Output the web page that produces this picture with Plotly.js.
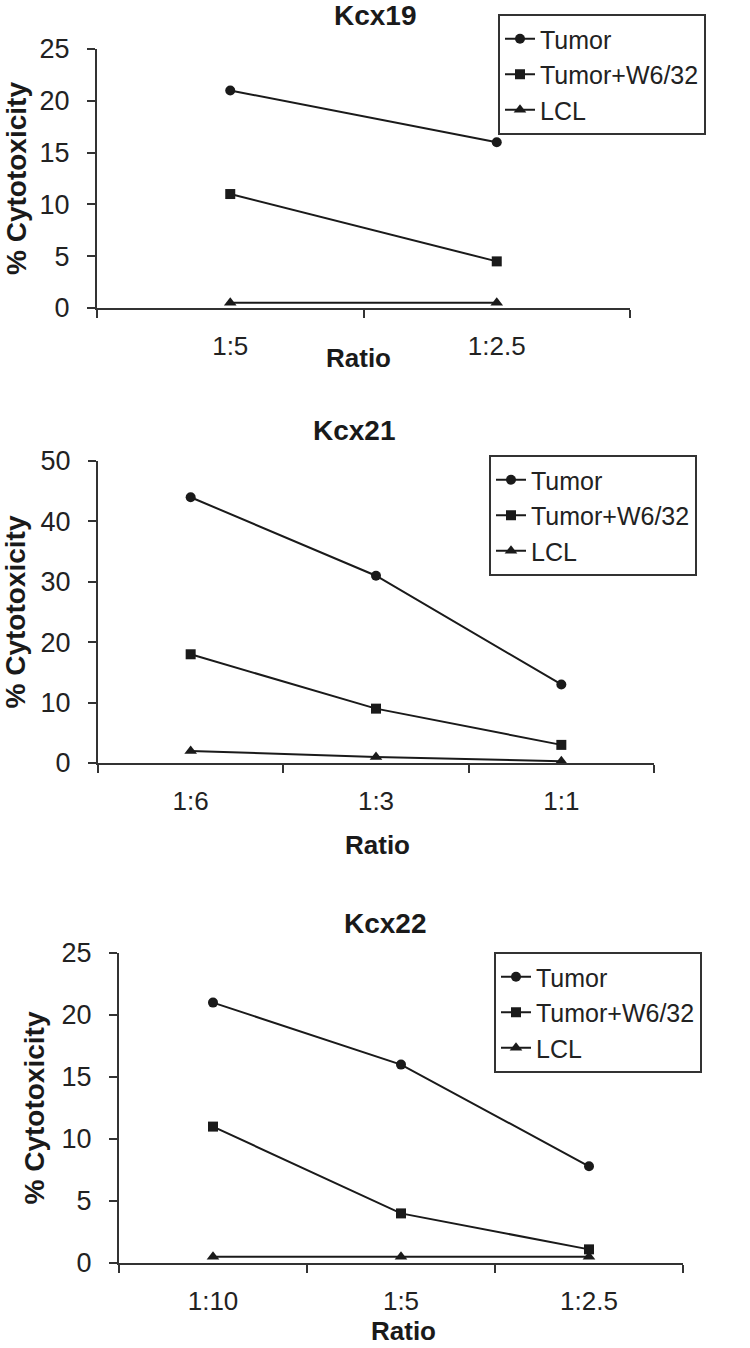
<!DOCTYPE html>
<html>
<head>
<meta charset="utf-8">
<script src="https://cdn.plot.ly/plotly-3.0.1.min.js"></script>
<style>html,body{margin:0;padding:0;background:#fff;}#chart{width:750px;height:1348px;}</style>
</head>
<body>
<div id="chart"></div>
<script>
// ---- data ----
const seriesNames = ["Tumor", "Tumor+W6/32", "LCL"];
const panelTitles = ["Kcx19", "Kcx21", "Kcx22"];

const kcx19Ratios = ["1:5", "1:2.5"];
const kcx19Tumor = [21, 16];
const kcx19TumorW632 = [11, 4.5];
const kcx19LCL = [0.5, 0.5];

const kcx21Ratios = ["1:6", "1:3", "1:1"];
const kcx21Tumor = [44, 31, 13];
const kcx21TumorW632 = [18, 9, 3];
const kcx21LCL = [2, 1, 0.3];

const kcx22Ratios = ["1:10", "1:5", "1:2.5"];
const kcx22Tumor = [21, 16, 7.8];
const kcx22TumorW632 = [11, 4, 1.1];
const kcx22LCL = [0.5, 0.5, 0.5];

const yMax = [25, 50, 25];
const yStep = [5, 10, 5];

// ---- layout geometry (pixels) ----
const W = 750, H = 1348;
const panels = [
  {x0: 97, x1: 630, yTop: 49, yBot: 308, titleX: 375, titleY: 16, ratioX: 358, ratioY: 358,
   legX: 498, legY: 14, yStandoff: 5},
  {x0: 98, x1: 654, yTop: 461, yBot: 763, titleX: 354, titleY: 430, ratioX: 377, ratioY: 845,
   legX: 489, legY: 455, yStandoff: 19},
  {x0: 119, x1: 683, yTop: 953, yBot: 1263, titleX: 385, titleY: 923, ratioX: 403, ratioY: 1331,
   legX: 494, legY: 952, yStandoff: 9}
];

const datasets = [
  {x: kcx19Ratios, ys: [kcx19Tumor, kcx19TumorW632, kcx19LCL]},
  {x: kcx21Ratios, ys: [kcx21Tumor, kcx21TumorW632, kcx21LCL]},
  {x: kcx22Ratios, ys: [kcx22Tumor, kcx22TumorW632, kcx22LCL]}
];

const symbols = ["circle", "square", "triangle-up"];
const FONT = "Liberation Sans, Arial, sans-serif";
const INK = "#1a1a1a";

const traces = [];
datasets.forEach((ds, p) => {
  const ax = p === 0 ? "" : String(p + 1);
  ds.ys.forEach((yv, s) => {
    traces.push({
      type: "scatter",
      mode: "lines+markers",
      name: seriesNames[s],
      x: ds.x,
      y: yv,
      xaxis: "x" + ax,
      yaxis: "y" + ax,
      legend: p === 0 ? "legend" : "legend" + (p + 1),
      cliponaxis: false,
      line: {color: INK, width: 2},
      marker: {symbol: symbols[s], size: s === 2 ? 11 : 10, color: INK}
    });
  });
});

const layout = {
  width: W, height: H,
  margin: {l: 0, r: 0, t: 0, b: 0},
  paper_bgcolor: "#fff",
  plot_bgcolor: "#fff",
  font: {family: FONT, color: INK, size: 26},
  showlegend: true,
  annotations: []
};

panels.forEach((g, p) => {
  const ax = p === 0 ? "" : String(p + 1);
  const n = datasets[p].x.length;
  layout["xaxis" + ax] = {
    domain: [g.x0 / W, g.x1 / W],
    anchor: "y" + ax,
    type: "category",
    range: [-0.5, n - 0.5],
    tickson: "boundaries",
    ticks: "outside", ticklen: 8, tickwidth: 2, tickcolor: "#333",
    showline: true, linecolor: "#333", linewidth: 2,
    showgrid: false, zeroline: false,
    ticklabelstandoff: 14,
    tickfont: {family: FONT, size: 26, color: "#222"},
    fixedrange: true
  };
  layout["yaxis" + ax] = {
    domain: [1 - g.yBot / H, 1 - g.yTop / H],
    anchor: "x" + ax,
    range: [0, yMax[p]],
    dtick: yStep[p], tick0: 0,
    ticks: "outside", ticklen: 8, tickwidth: 2, tickcolor: "#333",
    showline: true, linecolor: "#333", linewidth: 2,
    showgrid: false, zeroline: false,
    ticklabelstandoff: 12,
    tickfont: {family: FONT, size: 27, color: "#222"},
    title: {text: "% Cytotoxicity", standoff: g.yStandoff,
            font: {family: FONT, size: 28, color: INK, weight: "bold"}},
    automargin: false,
    fixedrange: true
  };
  const legKey = p === 0 ? "legend" : "legend" + (p + 1);
  layout[legKey] = {
    x: g.legX / W, y: 1 - g.legY / H,
    xanchor: "left", yanchor: "top",
    xref: "paper", yref: "paper",
    bgcolor: "#fff", bordercolor: "#333", borderwidth: 2,
    font: {family: FONT, size: 25, color: "#222"},
    itemwidth: 30,
    tracegroupgap: 0
  };
  layout.annotations.push({
    text: "<b>" + panelTitles[p] + "</b>",
    xref: "paper", yref: "paper",
    x: g.titleX / W, y: 1 - g.titleY / H,
    xanchor: "center", yanchor: "middle",
    showarrow: false,
    font: {family: FONT, size: 28, color: INK}
  });
  layout.annotations.push({
    text: "<b>Ratio</b>",
    xref: "paper", yref: "paper",
    x: g.ratioX / W, y: 1 - g.ratioY / H,
    xanchor: "center", yanchor: "middle",
    showarrow: false,
    font: {family: FONT, size: 26, color: INK}
  });
});

Plotly.newPlot("chart", traces, layout, {staticPlot: true, displayModeBar: false});
</script>
</body>
</html>
